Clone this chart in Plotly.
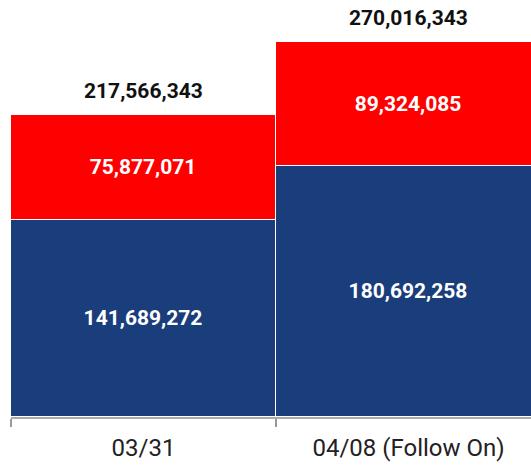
import plotly.graph_objects as go

categories = ["03/31", "04/08 (Follow On)"]
blue_values = [141689272, 180692258]
red_values = [75877071, 89324085]
totals = [b + r for b, r in zip(blue_values, red_values)]

BLUE = "#1a3d7c"
RED = "#ff0000"
FONT = "Roboto"

fig = go.Figure()
fig.add_trace(go.Bar(
    x=categories, y=blue_values, marker=dict(color=BLUE, line=dict(color="white", width=1)),
    text=[f"{v:,}" for v in blue_values], textposition="inside", insidetextanchor="middle",
    textfont=dict(family=FONT, size=21, color="white", weight="bold"),
    constraintext="none", textangle=0, hoverinfo="skip",
))
fig.add_trace(go.Bar(
    x=categories, y=red_values, marker=dict(color=RED, line=dict(color="white", width=1)),
    text=[f"{v:,}" for v in red_values], textposition="inside", insidetextanchor="middle",
    textfont=dict(family=FONT, size=21, color="white", weight="bold"),
    constraintext="none", textangle=0, hoverinfo="skip",
))
for c, t in zip(categories, totals):
    fig.add_annotation(x=c, y=t, text=f"<b>{t:,}</b>", showarrow=False, yanchor="middle",
                       yshift=24, font=dict(family=FONT, size=21, color="#111111"))

fig.update_layout(
    width=531, height=466, barmode="stack", bargap=0, showlegend=False,
    margin=dict(l=11, r=0, t=0, b=49),
    plot_bgcolor="white", paper_bgcolor="white",
    xaxis=dict(type="category", range=[-0.5, 1.462], tickson="boundaries", ticks="outside",
               ticklen=8, tickcolor="#999999", tickwidth=2, showline=True, linecolor="#aaaaaa", linewidth=2,
               ticklabelstandoff=8,
               showgrid=False, tickfont=dict(family=FONT, size=24, color="#222222")),
    yaxis=dict(range=[0, 300000000], visible=False, showgrid=False),
)
fig.write_html("out.html")
